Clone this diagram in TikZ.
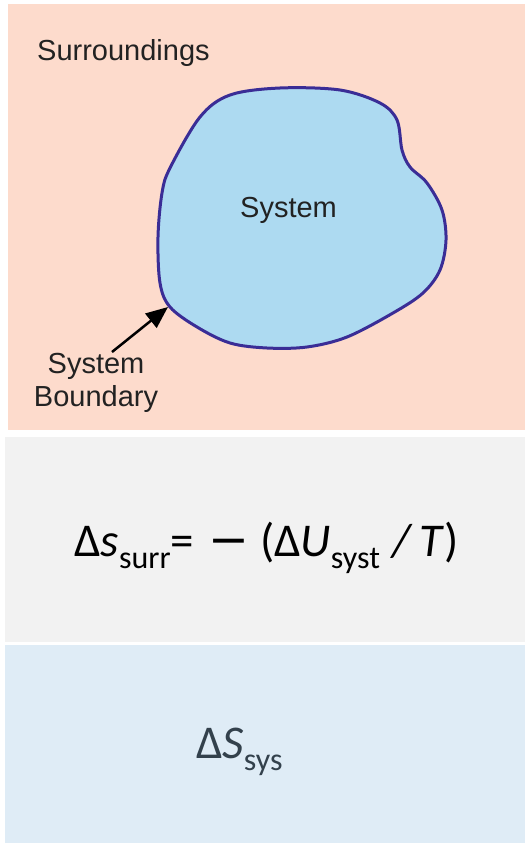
\documentclass[tikz,border=0pt]{standalone}
\usepackage{fontspec}
\setmainfont{Liberation Sans}
\newfontfamily\calfont{Carlito}
\usetikzlibrary{arrows.meta}
\definecolor{surrbg}{HTML}{FDDBCC}
\definecolor{graybg}{HTML}{F2F2F2}
\definecolor{bluebg}{HTML}{DFECF6}
\definecolor{blobfill}{HTML}{ADDAF1}
\definecolor{blobline}{HTML}{3A2D96}
\definecolor{labeltext}{HTML}{222222}
\definecolor{eqtwo}{HTML}{33414C}
\newcommand\sbx[1]{\raisebox{-12pt}{\fontsize{32}{32}\selectfont #1}}
\begin{document}
\begin{tikzpicture}[x=1pt,y=-1pt,
  lbl/.style={inner sep=0pt, text=labeltext, font=\fontsize{29}{33}\selectfont},
  eqn/.style={inner sep=0pt, font=\calfont\fontsize{47}{47}\selectfont},
  pointer/.style={line width=2.5pt, -{Triangle[length=22pt,width=18pt]}}]
\useasboundingbox (0,0) rectangle (525,843);
\fill[white] (0,0) rectangle (525,843);
\fill[surrbg] (8,4) rectangle (525,430);
\fill[graybg] (5,437) rectangle (525,642);
\fill[bluebg] (5,645) rectangle (525,843);
\draw[blobline, fill=blobfill, line width=3pt] plot[smooth cycle, tension=0.55] coordinates {
 (170,168) (200,117) (230,95) (280,88) (340,90) (380,103) (397,120) (402,150)
 (410,167) (427,183) (442,210) (446,240) (440,270) (423,293) (393,313) (347,337)
 (307,347) (267,348) (230,343) (197,327) (170,307) (160,283) (158,237) (162,193)};
\node[lbl, anchor=base west] (surr) at (37,60) {Surroundings};
\node[lbl, anchor=base west] (sys) at (240,217) {System};
\node[lbl, anchor=base, align=center] (sb) at (96,406) {System\\Boundary};
\coordinate (tail) at (112,352);
\coordinate (tip) at (168,307);
\draw[pointer] (tail) -- (tip);
\node[eqn, anchor=base west] (eq1) at (74,556) {∆\textit{s}\sbx{surr}=\hspace{14pt}\raisebox{-4pt}{\scalebox{1.75}[1.3]{−}}\hspace{11pt}(∆\textit{U}\sbx{syst}\hspace{13pt}\textit{/}\hspace{6pt}\textit{T})};
\node[eqn, anchor=base west, text=eqtwo] (eq2) at (196,758) {∆\textit{S}\sbx{sys}};
\end{tikzpicture}
\end{document}
